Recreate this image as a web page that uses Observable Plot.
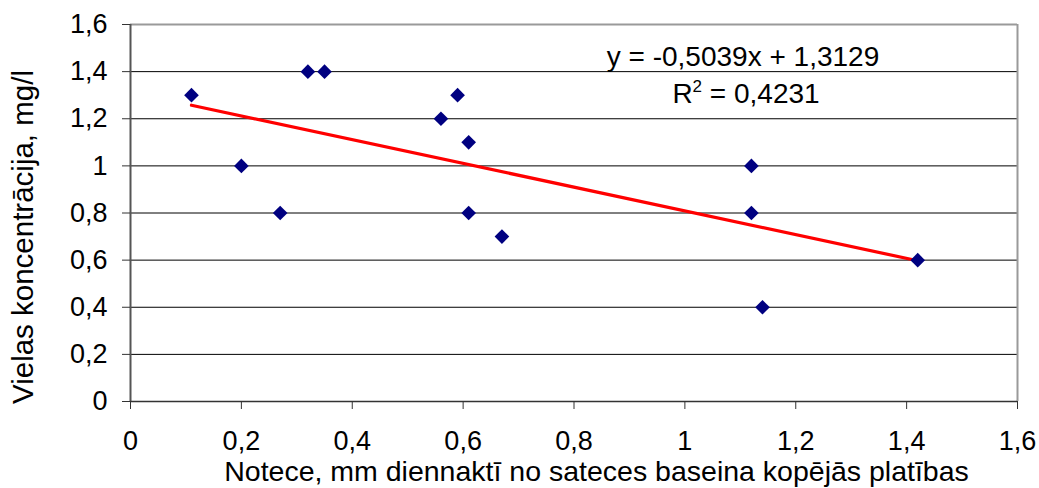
<!DOCTYPE html>
<html>
<head>
<meta charset="utf-8">
<script src="https://cdn.jsdelivr.net/npm/d3@7"></script>
<script src="https://cdn.jsdelivr.net/npm/@observablehq/plot@0.6"></script>
<style>
  html, body { margin: 0; padding: 0; background: #fff; }
  svg { display: block; }
</style>
</head>
<body>
<div id="chart"></div>
<script>
// Data
const runoff = [0.11, 0.2, 0.27, 0.32, 0.35, 0.56, 0.59, 0.61, 0.61, 0.67, 1.12, 1.12, 1.14, 1.42];
const concentration = [1.3, 1.0, 0.8, 1.4, 1.4, 1.2, 1.3, 1.1, 0.8, 0.7, 1.0, 0.8, 0.4, 0.6];
const xTicks = [0, 0.2, 0.4, 0.6, 0.8, 1, 1.2, 1.4, 1.6];
const yTicks = [0, 0.2, 0.4, 0.6, 0.8, 1, 1.2, 1.4, 1.6];
const slope = -0.5039;
const intercept = 1.3129;
const equationText = "y = -0,5039x + 1,3129";
const r2Text = "R2 = 0,4231";
const xTitle = "Notece, mm diennaktī no sateces baseina kopējās platības";
const yTitle = "Vielas koncentrācija, mg/l";

const points = runoff.map((x, i) => ({x, y: concentration[i]}));
const xMin = d3.min(runoff), xMax = d3.max(runoff);
const trend = [xMin, xMax].map(x => ({x, y: slope * x + intercept}));

const fmt = d => Number.isInteger(d) ? String(d) : d.toFixed(1).replace(".", ",");
const FONT = "Liberation Sans, Arial, sans-serif";
const FS = 28;
const TFS = 27;

const chart = Plot.plot({
  width: 1039,
  height: 488,
  marginLeft: 130,
  marginRight: 22,
  marginTop: 24,
  marginBottom: 87,
  style: {fontFamily: FONT, fontSize: FS + "px", color: "#000", background: "#fff"},
  x: {domain: [0, 1.6]},
  y: {domain: [0, 1.6]},
  marks: [
    Plot.ruleY(yTicks.filter(d => d > 0 && d < 1.6), {stroke: "#000", strokeWidth: 1}),
    Plot.ruleY([1.6], {stroke: "#9a9a9a", strokeWidth: 2}),
    Plot.ruleX([1.6], {stroke: "#9a9a9a", strokeWidth: 2}),
    Plot.ruleX([0], {stroke: "#555", strokeWidth: 2}),
    Plot.ruleY([0], {stroke: "#333", strokeWidth: 1.5}),
    Plot.axisX({ticks: xTicks, tickFormat: fmt, tickSize: 8, tickPadding: 21, fontSize: TFS, label: null, stroke: "#333"}),
    Plot.axisY({ticks: yTicks, tickFormat: fmt, tickSize: 8, tickPadding: 15, fontSize: TFS, label: null, stroke: "#333"}),
    Plot.line(trend, {x: "x", y: "y", stroke: "#ff0000", strokeWidth: 3.2}),
    Plot.dot(points, {x: "x", y: "y", symbol: "diamond2", r: 6.6, fill: "#000080", stroke: "none"}),
    Plot.text([equationText], {frameAnchor: "top", dx: 169, dy: 33, fontSize: FS, fill: "#000", lineAnchor: "middle"}),
    Plot.text([r2Text], {frameAnchor: "top", dx: 172, dy: 70, fontSize: FS, fill: "#000", lineAnchor: "middle"}),
    Plot.text([xTitle], {frameAnchor: "bottom", dx: 22.5, dy: 70, fontSize: 28.5, fill: "#000", lineAnchor: "middle"}),
    Plot.text([yTitle], {frameAnchor: "left", dx: -107, dy: 24, rotate: -90, fontSize: 29.5, fill: "#000", lineAnchor: "middle", textAnchor: "middle"})
  ]
});
document.getElementById("chart").appendChild(chart);

// Render the "2" of R2 as a real superscript
d3.select(chart).selectAll("text").each(function() {
  const t = d3.select(this);
  if (t.text() === r2Text) {
    t.text(null);
    t.append("tspan").text("R");
    t.append("tspan").attr("dy", "-11").attr("font-size", "17").text("2");
    t.append("tspan").attr("dy", "11").text(r2Text.slice(2));
  }
});
</script>
</body>
</html>
